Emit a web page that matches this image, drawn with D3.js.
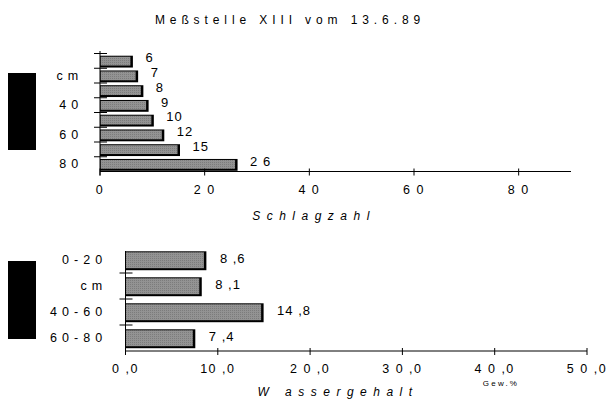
<!DOCTYPE html>
<html><head><meta charset="utf-8">
<script src="https://cdn.jsdelivr.net/npm/d3@7"></script>
<style>body{margin:0;background:#fff}svg{display:block;font-family:"Liberation Sans",Arial,sans-serif}</style>
</head><body>
<svg id="c" width="607" height="401"></svg>
<script>
const title = "Meßstelle XIII vom 13.6.89";
// top chart: Schlagzahl per 10 cm step
const depthSteps = ["d1","d2","d3","d4","d5","d6","d7","d8"];
const depthLabels = ["", "c m", "", "4 0", "", "6 0", "", "8 0"];
const schlagzahl = [6, 7, 8, 9, 10, 12, 15, 26];
const schlagLabels = ["6","7","8","9","10","12","15","2 6"];
const topTicks = [0, 20, 40, 60, 80];
const topTickLabels = ["0","2 0","4 0","6 0","8 0"];
// bottom chart: Wassergehalt
const layers = ["0-20","20-40","40-60","60-80"];
const layerLabels = ["0 - 2 0","c m","4 0 - 6 0","6 0 - 8 0"];
const wasser = [8.6, 8.1, 14.8, 7.4];
const wasserLabels = ["8 ,6","8 ,1","14 ,8","7 ,4"];
const botTicks = [0, 10, 20, 30, 40, 50];
const botTickLabels = ["0 ,0","10 ,0","2 0 ,0","3 0 ,0","4 0 ,0","5 0 ,0"];

const svg = d3.select("#c");
const defs = svg.append("defs");
const pat = defs.append("pattern").attr("id","dots").attr("width",2).attr("height",2).attr("patternUnits","userSpaceOnUse");
pat.append("rect").attr("width",2).attr("height",2).attr("fill","#939393");
pat.append("rect").attr("width",1).attr("height",1).attr("fill","#7c7c7c");

svg.append("text").attr("x",290).attr("y",24).attr("text-anchor","middle")
  .attr("font-size",12).attr("letter-spacing","4.9px").text(title);

function drawChart(o){
  const g = svg.append("g");
  const x = d3.scaleLinear().domain(o.xDomain).range(o.xRange);
  const y = d3.scaleBand().domain(o.cats).range(o.yRange).paddingInner(o.pad).paddingOuter(o.pad/2);
  g.append("rect").attr("x",8).attr("y",o.block[0]).attr("width",28).attr("height",o.block[1]-o.block[0]).attr("fill","#000");
  const bars = g.selectAll(".b").data(o.values).join("g");
  bars.append("rect").attr("x",x(0)).attr("y",(d,i)=>y(o.cats[i])).attr("width",d=>x(d)-x(0)+1.5).attr("height",y.bandwidth()+1.5).attr("fill","#000");
  bars.append("rect").attr("x",x(0)+0.5).attr("y",(d,i)=>y(o.cats[i])+1).attr("width",d=>Math.max(0,x(d)-x(0)-1.5)).attr("height",y.bandwidth()-1.5).attr("fill","url(#dots)");
  g.selectAll(".v").data(o.values).join("text")
    .attr("x",d=>x(d)+o.labOff).attr("y",(d,i)=>y(o.cats[i])+y.bandwidth()/2+o.labDy)
    .attr("font-size",13).attr("dominant-baseline","middle").attr("letter-spacing","1px").text((d,i)=>o.valLabels[i]);
  g.selectAll(".c").data(o.cats).join("text")
    .attr("x",o.catX).attr("y",d=>y(d)+y.bandwidth()/2+1).attr("text-anchor","end")
    .attr("font-size",12.5).attr("dominant-baseline","middle").attr("letter-spacing","0.8px").text((d,i)=>o.catLabels[i]);
  const y0 = o.yRange[0], y1 = o.yRange[1];
  g.append("line").attr("x1",x(0)).attr("x2",x(0)).attr("y1",o.yAxisTop).attr("y2",y1+4).attr("stroke","#000").attr("stroke-width",1);
  const seps = d3.range(o.sepStart, o.cats.length).map(i=> y0 + i*y.step());
  g.selectAll(".s").data(seps).join("line")
    .attr("x1",x(0)-6).attr("x2",x(0)+7).attr("y1",d=>d).attr("y2",d=>d).attr("stroke","#000").attr("stroke-width",1);
  g.append("line").attr("x1",x(0)).attr("x2",o.xRange[1]).attr("y1",y1).attr("y2",y1).attr("stroke","#000").attr("stroke-width",1);
  g.selectAll(".t").data(o.ticks).join("line")
    .attr("x1",d=>x(d)).attr("x2",d=>x(d)).attr("y1",y1-3).attr("y2",y1+4).attr("stroke","#000").attr("stroke-width",1);
  g.selectAll(".tl").data(o.ticks).join("text")
    .attr("x",d=>x(d)).attr("y",y1+22).attr("text-anchor","middle").attr("font-size",12.5).attr("letter-spacing","1.5px")
    .text((d,i)=>o.tickLabels[i]);
}

drawChart({xDomain:[0,90], xRange:[100,571], cats:depthSteps, yRange:[53.5,171.5], pad:0.3,
  values:schlagzahl, valLabels:schlagLabels, catLabels:depthLabels, catX:79, labOff:14, labDy:-2,
  ticks:topTicks, tickLabels:topTickLabels, block:[73,150], yAxisTop:51, sepStart:0});
drawChart({xDomain:[0,50], xRange:[125.5,587], cats:layers, yRange:[247,351], pad:0.33,
  values:wasser, valLabels:wasserLabels, catLabels:layerLabels, catX:103, labOff:15, labDy:0,
  ticks:botTicks, tickLabels:botTickLabels, block:[261,339], yAxisTop:251, sepStart:1});

svg.append("text").attr("x",314).attr("y",220).attr("text-anchor","middle").attr("font-size",12)
  .attr("font-style","italic").attr("letter-spacing","6.5px").text("Schlagzahl");
svg.append("text").attr("x",338).attr("y",396).attr("text-anchor","middle").attr("font-size",12)
  .attr("font-style","italic").attr("letter-spacing","6.5px").text("W assergehalt");
svg.append("text").attr("x",501).attr("y",386).attr("text-anchor","middle").attr("font-size",8)
  .attr("letter-spacing","2.2px").text("Gew.%");
</script>
</body></html>
